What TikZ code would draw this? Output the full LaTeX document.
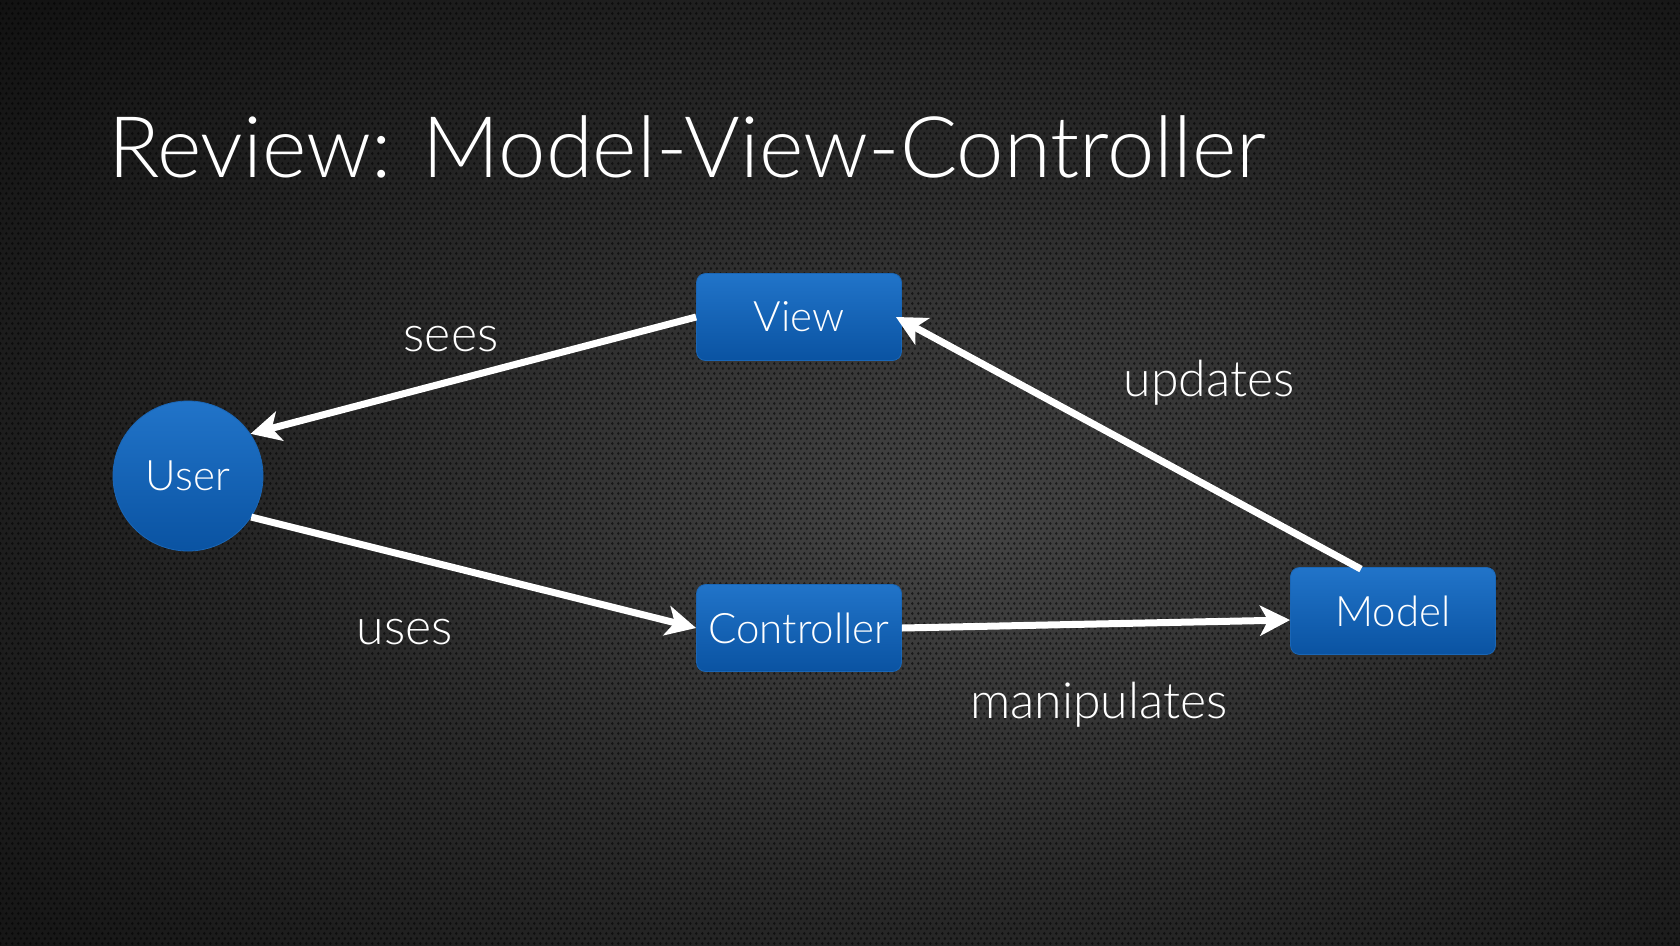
\documentclass[tikz,border=0pt]{standalone}
\usepackage{fontspec}
\setmainfont{Lato Light}
\usetikzlibrary{arrows.meta,calc,patterns}

% slide palette
\definecolor{bgA}{HTML}{444444}
\definecolor{bgB}{HTML}{292929}
\definecolor{bgC}{HTML}{0A0A0A}
\definecolor{bgD}{HTML}{060606}
\definecolor{boxtop}{HTML}{2174C9}
\definecolor{boxbot}{HTML}{0A53A2}
\definecolor{boxedge}{HTML}{1A66B6}

% dark vignette behind the diagram
\pgfdeclareradialshading{slatebg}{\pgfpoint{0bp}{0bp}}{%
  color(0bp)=(bgA); color(15bp)=(bgB); color(38bp)=(bgC); color(80bp)=(bgD)}

% perforated-metal texture: hexagonal grid of small holes
\pgfdeclarepatternformonly{perforation}{\pgfpointorigin}{\pgfpoint{6bp}{10.4bp}}%
  {\pgfpoint{6bp}{10.4bp}}{%
  \pgfpathcircle{\pgfpoint{1.5bp}{2.6bp}}{1.6bp}%
  \pgfpathcircle{\pgfpoint{4.5bp}{7.8bp}}{1.6bp}%
  \pgfusepath{fill}}

\tikzset{
  bluebox/.style={rectangle, rounded corners=9pt, minimum width=205pt,
    minimum height=87pt, inner sep=0pt, top color=boxtop, bottom color=boxbot,
    draw=boxedge, line width=0.8pt, text=white,
    font=\fontsize{42}{42}\selectfont},
  actor/.style={circle, minimum size=150pt, inner sep=0pt,
    top color=boxtop, bottom color=boxbot, draw=boxedge, line width=0.8pt,
    text=white, font=\fontsize{42}{42}\selectfont},
  lbl/.style={text=white, inner sep=0pt, anchor=base,
    font=\fontsize{50}{50}\selectfont},
  flow/.style={draw=white, line width=7pt,
    -{Stealth[length=30pt, width=30pt, inset=8pt]}}
}

\begin{document}
\begin{tikzpicture}[x=1pt, y=-1pt]
\useasboundingbox (0,0) rectangle (1680,945);

% background: vignette centred a little right of and below the middle
\begin{scope}
  \clip (0,0) rectangle (1680,945);
  \fill[shading=slatebg] (-50,-80) rectangle (1950,1120);
\end{scope}
\fill[pattern=perforation, pattern color=black, opacity=0.55] (0,0) rectangle (1680,945);

% title
\node[anchor=base west, inner sep=0pt, text=white,
      font=\fontsize{85}{85}\selectfont] (title) at (108,177)
  {Review: Model-View-Controller};

% components
\node[actor]   (user)       at (188,476) {User};
\node[bluebox] (view)       at (799,317) {View};
\node[bluebox] (controller) at (799,628) {Controller};
\node[bluebox] (model)      at (1393,611) {Model};

% interactions
\draw[flow] (view.west) -- (user.34);
\draw[flow] (user.-33) -- (controller.west);
\draw[flow] (controller.east) -- ($(model.west)+(0,9)$);
\draw[flow] ($(model.north)+(-32,2)$) -- ($(view.east)+(-6,0)$);

% edge labels
\node[lbl] (seesl)  at (451,351)  {sees};
\node[lbl] (usesl)  at (405,644)  {uses};
\node[lbl] (updl)   at (1209,396) {updates};
\node[lbl] (manipl) at (1099,718) {manipulates};
\end{tikzpicture}
\end{document}
